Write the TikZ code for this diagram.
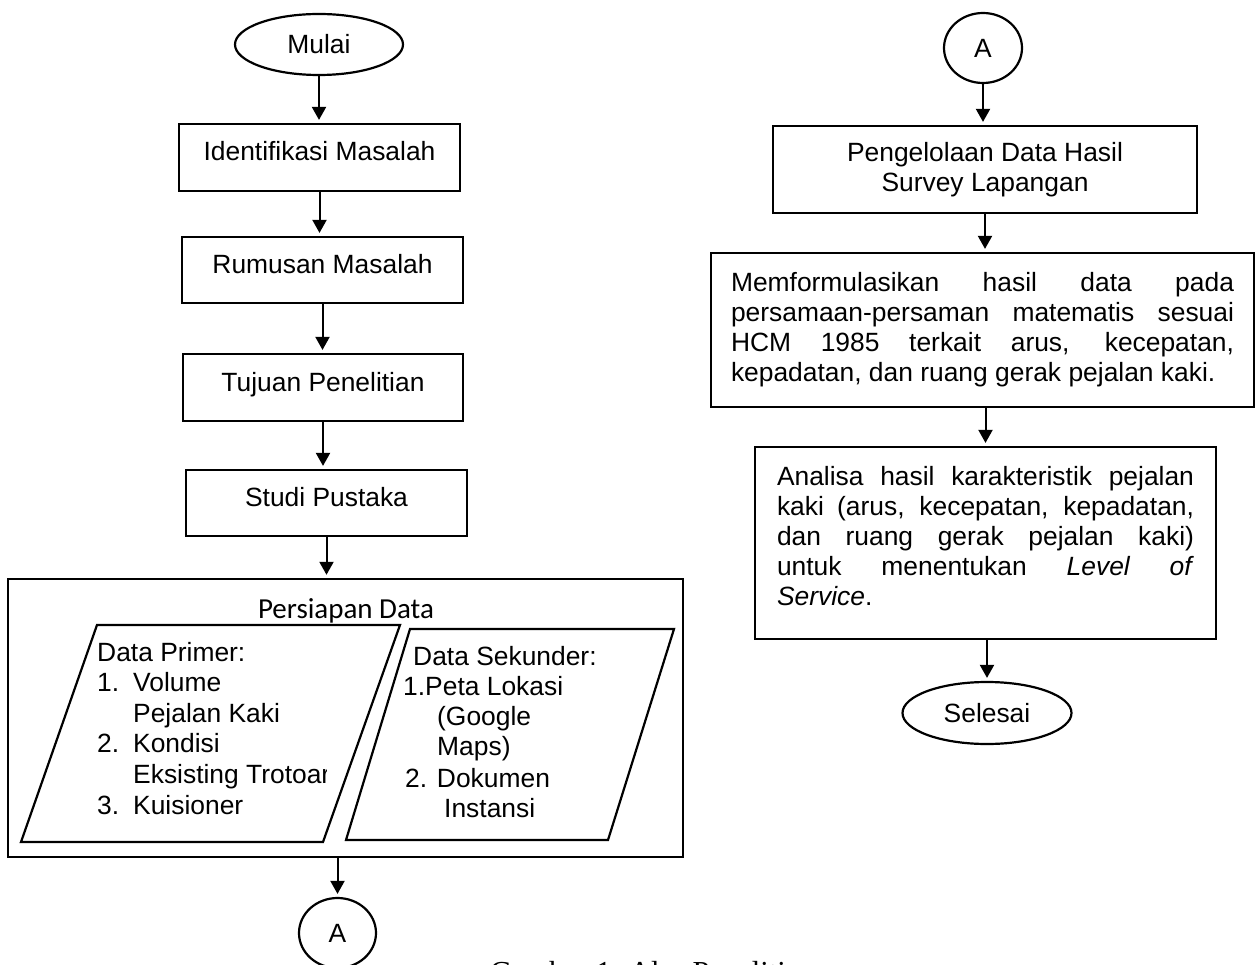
\documentclass[tikz,border=0pt]{standalone}
\usepackage{fontspec}
\setmainfont{Liberation Sans}
\newfontfamily\calibf{Carlito}
\newfontfamily\timesf{Liberation Serif}
\usetikzlibrary{arrows.meta,shapes.geometric,calc}
\begin{document}
\hyphenpenalty=10000
\exhyphenpenalty=10000
\begin{tikzpicture}[x=1pt,y=-1pt,
  every node/.style={font=\fontsize{26.4}{30}\selectfont},
  box/.style={draw, line width=2.2pt, inner sep=0pt, align=center, text height=19pt, text depth=12pt},
  mbox/.style={draw, line width=2.2pt, inner ysep=0pt},
  term/.style={draw, ellipse, line width=2.2pt, inner sep=0pt},
  arr/.style={line width=2pt, -{Triangle[length=13pt,width=14pt]}, shorten >=3pt},
  lbl/.style={anchor=base west, inner sep=0pt},
  para/.style={line width=2.2pt}]
\useasboundingbox (0,0) rectangle (1255,965);

% left column
\node[term, minimum width=168pt, minimum height=61pt] (mulai) at (319,44.5) {Mulai};
\node[box, minimum width=281pt, minimum height=67pt] (ident) at (319.5,157.5) {Identifikasi Masalah};
\node[box, minimum width=281pt, minimum height=66pt] (rumus) at (322.5,270) {Rumusan Masalah};
\node[box, minimum width=280pt, minimum height=67pt] (tujuan) at (323,387.5) {Tujuan Penelitian};
\node[box, minimum width=281pt, minimum height=66pt] (studi) at (326.5,503) {Studi Pustaka};

\node[draw, line width=2.4pt, inner sep=0pt, minimum width=675pt, minimum height=278pt] (persiapan) at (345.5,718) {};
\node[font=\calibf\fontsize{29}{30}\selectfont, anchor=base, inner sep=0pt] (ptitle) at (346,618) {Persiapan Data};

\draw[para] (97,625) -- (400,625) -- (323,842) -- (21,842) -- cycle;
\draw[para] (410,629) -- (674,629) -- (608,840) -- (346,840) -- cycle;

\node[lbl] (dp) at (97,661) {Data Primer:};
\node[lbl] (dpn1) at (97,691) {1.};
\node[lbl] (dpv) at (133,691) {Volume};
\node[lbl] (dpv2) at (133,722) {Pejalan Kaki};
\node[lbl] (dpn2) at (97,752) {2.};
\node[lbl] (dpk) at (133,752) {Kondisi};
\begin{scope}
  \clip (0,755) rectangle (326,800);
  \node[lbl] (dpk2) at (133,783) {Eksisting Trotoar};
\end{scope}
\node[lbl] (dpn3) at (97,814) {3.};
\node[lbl] (dpq) at (133,814) {Kuisioner};

\node[lbl] (ds) at (413,665) {Data Sekunder:};
\node[lbl] (ds1) at (403,695) {1.Peta Lokasi};
\node[lbl] (ds1b) at (437,725) {(Google};
\node[lbl] (ds1c) at (437,755) {Maps)};
\node[lbl] (ds2) at (405,787) {2. Dokumen};
\node[lbl] (ds2b) at (444,817) {Instansi};

\node[term, minimum width=77pt, minimum height=70pt] (a1) at (337.5,933) {A};

\node[font=\timesf\fontsize{30.5}{32}\selectfont, anchor=base west, inner sep=0pt] (caption) at (490,982) {Gambar 1. Alur Penelitian};

% right column
\node[term, minimum width=78pt, minimum height=70pt] (a2) at (983,48) {A};
\node[mbox, inner xsep=0pt, align=center, minimum width=424pt, minimum height=87pt] (peng) at (985,169.5) {Pengelolaan Data Hasil\\Survey Lapangan};
\node[mbox, inner xsep=20pt, text width=503pt, align=justify, minimum height=154pt] (mem) at (982.5,330)
  {Memformulasikan hasil data pada\linebreak persamaan-persaman matematis sesuai\linebreak HCM 1985 terkait arus, kecepatan,\linebreak kepadatan, dan ruang gerak pejalan kaki.};
\node[mbox, inner xsep=22pt, text width=417pt, align=justify, minimum height=192pt] (ana) at (985.5,543)
  {Analisa hasil karakteristik pejalan\linebreak kaki (arus, kecepatan, kepadatan,\linebreak dan ruang gerak pejalan kaki)\linebreak untuk menentukan \textit{Level of}\linebreak \textit{Service}.\rule[-15pt]{0pt}{15pt}};
\node[term, minimum width=169pt, minimum height=62pt] (sel) at (987,713) {Selesai};

% connectors
\draw[arr] (mulai.south) -- (mulai.south |- ident.north);
\draw[arr] (ident.south) -- (ident.south |- rumus.north);
\draw[arr] (rumus.south) -- (rumus.south |- tujuan.north);
\draw[arr] (tujuan.south) -- (tujuan.south |- studi.north);
\draw[arr] (studi.south) -- (studi.south |- persiapan.north);
\draw[arr] (a1.north |- persiapan.south) -- (a1.north);

\draw[arr] (a2.south) -- (a2.south |- peng.north);
\draw[arr] (peng.south) -- (peng.south |- mem.north);
\draw[arr] (ana.north |- mem.south) -- (ana.north);
\draw[arr] (sel.north |- ana.south) -- (sel.north);
\end{tikzpicture}
\end{document}
